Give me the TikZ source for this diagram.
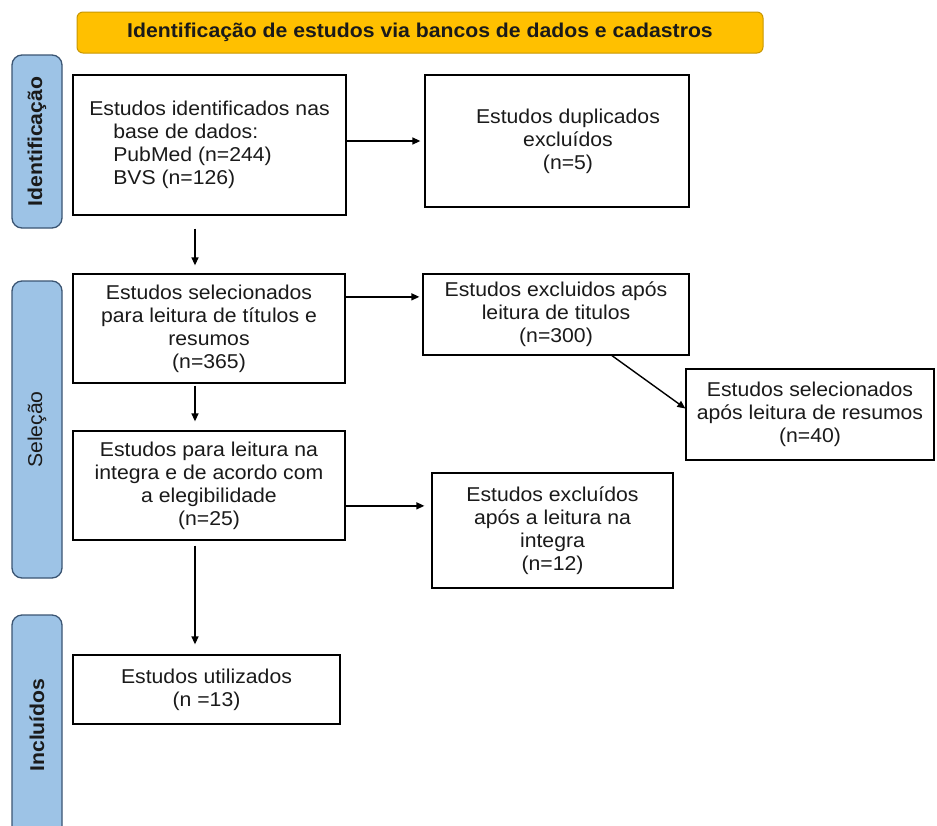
\documentclass[tikz,border=0pt]{standalone}
\usepackage{fontspec}
\setmainfont{Liberation Sans}[FakeStretch=1.06]
\usetikzlibrary{arrows.meta,positioning}
\definecolor{head}{HTML}{FFC000}
\definecolor{headrule}{HTML}{C99700}
\definecolor{phase}{HTML}{9DC3E6}
\definecolor{phaserule}{HTML}{3B5573}
\definecolor{ink}{HTML}{1A1A1A}
\newcommand{\bodyfont}{\fontsize{20}{23}\selectfont}
\tikzset{
  box/.style={rectangle, draw=black, line width=1.3pt, fill=white,
              align=center, text=ink, inner sep=0pt},
  hdr/.style={rectangle, rounded corners=6pt, draw=headrule, fill=head,
              line width=1pt, font={\bodyfont\bfseries}, text=ink,
              minimum width=686pt, minimum height=41pt},
  phasebar/.style={rectangle, rounded corners=10pt, draw=phaserule, fill=phase,
                   line width=1.3pt, minimum width=50pt},
  phaselbl/.style={rotate=90, text=ink},
  fl/.style={-{Triangle[length=8pt,width=7pt]}, draw=black, line width=1.4pt}
}
\newcommand{\ind}{\hspace*{24pt}}

\begin{document}
\begin{tikzpicture}[x=1pt, y=-1pt, font=\bodyfont]
  \clip (0,0) rectangle (937,825);
  \fill[white] (0,0) rectangle (937,825);
  % header and phase bars
  \node[hdr] (head) at (420,32.5) {Identificação de estudos via bancos de dados e cadastros};
  \node[phasebar, minimum height=173pt] (pid) at (37,141.5) {};
  \node[phaselbl, font={\bodyfont\bfseries}] (lid) at (pid) {Identificação};
  \node[phasebar, minimum height=297pt] (psel) at (37,429.5) {};
  \node[phaselbl] (lsel) at (psel) {Seleção};
  \node[phasebar, minimum height=260pt] (pinc) at (37,745) {};
  \node[phaselbl, font={\bodyfont\bfseries}] (linc) at (37,725) {Incluídos};
  % boxes
  \node[box, minimum width=273pt, minimum height=140pt, align=left] (found) at (209.5,145)
    {Estudos identificados nas\\\ind base de dados:\\\ind PubMed (n=244)\\\ind BVS (n=126)};
  \node[box, minimum width=264pt, minimum height=132pt] (dup) at (557,141)
    {\hspace*{22pt}Estudos duplicados\\\hspace*{22pt}excluídos\\\hspace*{22pt}(n=5)};
  \node[box, minimum width=272pt, minimum height=109pt] (sel) at (209,328.5)
    {Estudos selecionados\\para leitura de títulos e\\resumos\\(n=365)};
  \node[box, minimum width=266pt, minimum height=81pt] (exct) at (556,314.5)
    {Estudos excluidos após\\leitura de titulos\\(n=300)};
  \node[box, minimum width=248pt, minimum height=91pt] (abst) at (810,414.5)
    {Estudos selecionados\\após leitura de resumos\\(n=40)};
  \node[box, minimum width=272pt, minimum height=109pt] (elig) at (209,485.5)
    {Estudos para leitura na\\integra e de acordo com\\a elegibilidade\\(n=25)};
  \node[box, minimum width=241pt, minimum height=115pt] (exci) at (552.5,530.5)
    {Estudos excluídos\\após a leitura na\\integra\\(n=12)};
  \node[box, minimum width=267pt, minimum height=69pt] (used) at (206.5,689.5)
    {Estudos utilizados\\(n =13)};
  % arrows
  \coordinate (spine) at (195,0);
  \draw[fl, shorten >=4pt] (found.east |- dup) -- (dup.west);
  \draw[fl, shorten <=13pt, shorten >=8pt] (found.south -| spine) -- (sel.north -| spine);
  \draw[fl, shorten >=3pt] ([yshift=-23.5pt]sel.north east) -- ([yshift=-23.5pt]sel.north east -| exct.west);
  \draw[fl] ([xshift=56pt]exct.south) -- ([yshift=6pt]abst.west);
  \draw[fl, shorten <=2pt, shorten >=9pt] (sel.south -| spine) -- (elig.north -| spine);
  \draw[fl, shorten >=7pt] ([yshift=-75.5pt]elig.north east) -- ([yshift=-75.5pt]elig.north east -| exci.west);
  \draw[fl, shorten <=5pt, shorten >=10pt] (elig.south -| spine) -- (used.north -| spine);
\end{tikzpicture}
\end{document}
